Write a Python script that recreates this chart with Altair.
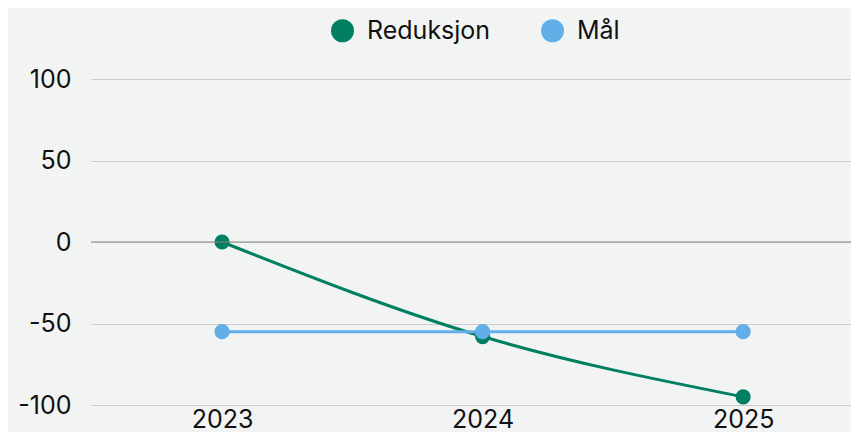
import altair as alt
import pandas as pd

years = [2023, 2024, 2025]
reduksjon = [0, -58, -95]
maal = [-55, -55, -55]
series_names = ["Reduksjon", "Mål"]
series_colors = ["#007f62", "#62aee8"]
y_ticks = [-100, -50, 0, 50, 100]

df_r = pd.DataFrame({"year": years, "value": reduksjon, "serie": series_names[0]})
df_m = pd.DataFrame({"year": years, "value": maal, "serie": series_names[1]})

FONT = "Inter"
FS = 25

x = alt.X("year:Q",
          scale=alt.Scale(domain=[2022.497, 2025.414], nice=False, zero=False),
          axis=alt.Axis(values=years, format="d", title=None, grid=False, domain=False,
                        ticks=False, labelFontSize=FS, labelPadding=2, labelColor="#111",
                        labelFont=FONT, labelFlush=False))
y = alt.Y("value:Q",
          scale=alt.Scale(domain=[-100, 100], nice=False),
          axis=alt.Axis(values=y_ticks, title=None, domain=False, ticks=False,
                        labelExpr="toString(datum.value)",
                        labelFontSize=FS, labelPadding=20, labelColor="#111", labelFont=FONT,
                        gridColor="#cccccc", gridWidth=1))
color = alt.Color("serie:N",
                  scale=alt.Scale(domain=series_names, range=series_colors),
                  legend=alt.Legend(title=None, orient="none", legendX=239, legendY=-61,
                                    direction="horizontal", symbolType="circle",
                                    symbolSize=530, symbolStrokeWidth=0, labelFontSize=FS,
                                    labelFont=FONT, labelColor="#111", labelOffset=12,
                                    columnPadding=49, symbolOpacity=1))

zero = alt.Chart(pd.DataFrame({"v": [0]})).mark_rule(color="#888888", strokeWidth=1).encode(y=alt.datum(0))

line_r = alt.Chart(df_r).mark_line(strokeWidth=3, interpolate="monotone").encode(x=x, y=y, color=color)
pt_r = alt.Chart(df_r).mark_circle(size=230, opacity=1).encode(x=x, y=y, color=color)
line_m = alt.Chart(df_m).mark_line(strokeWidth=3).encode(x=x, y=y, color=color)
pt_m = alt.Chart(df_m).mark_circle(size=230, opacity=1).encode(x=x, y=y, color=color)

chart = alt.layer(line_r, pt_r, line_m, pt_m, zero).properties(
    width=760, height=326,
    autosize=alt.AutoSizeParams(type="none"),
    padding={"left": 83, "top": 71, "right": 0, "bottom": 27},
    background="#f2f4f3",
).configure_view(stroke=None)

chart.save("out.html", embed_options={"renderer": "svg", "actions": False})
